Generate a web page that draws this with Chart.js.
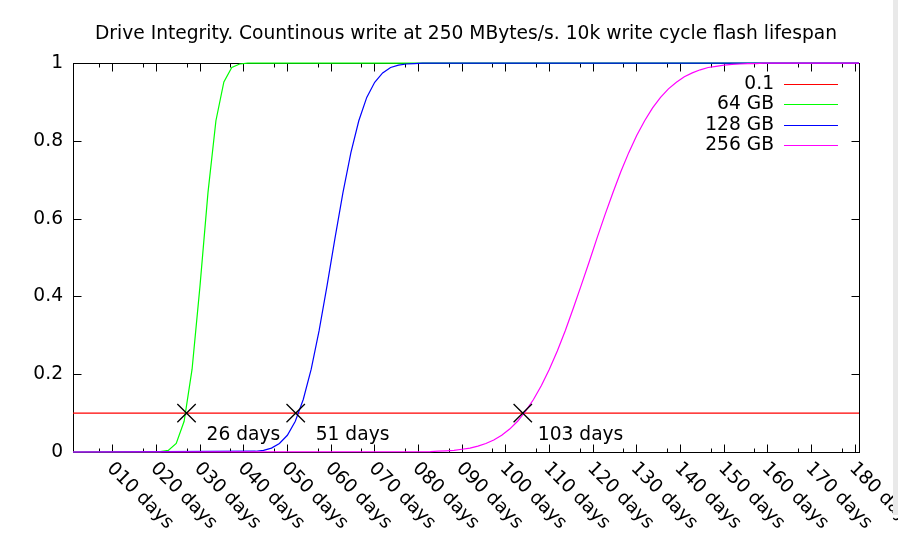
<!DOCTYPE html>
<html>
<head>
<meta charset="utf-8">
<title>Drive Integrity</title>
<script src="https://cdn.jsdelivr.net/npm/chart.js@4"></script>
<style>
  body { margin: 0; background: #fff; }
  #wrap { position: relative; width: 898px; height: 536px; }
  #strip { position: absolute; left: 893px; top: 0; width: 5px; height: 515px; background: #e9e9e9; }
</style>
</head>
<body>
<div id="wrap">
  <canvas id="driveChart" width="898" height="536"></canvas>
  <div id="strip"></div>
</div>
<script>
// Sampled curves (days elapsed -> fraction of drives worn out)
const days64 = [0, 20.00, 21.82, 23.64, 25.45, 27.27, 29.09, 30.91, 32.73, 34.55, 36.36, 38.18, 40.00, 180];
const gb64 = [0, 0.001, 0.004, 0.022, 0.079, 0.213, 0.428, 0.667, 0.852, 0.952, 0.989, 0.998, 1, 1];

const days128 = [0, 41.82, 43.64, 45.45, 47.27, 49.09, 50.91, 52.73, 54.55, 56.36, 58.18, 60.00,
  61.82, 63.64, 65.45, 67.27, 69.09, 70.91, 72.73, 74.55, 76.36, 78.18, 80.00, 180];
const gb128 = [0, 0.002, 0.004, 0.010, 0.022, 0.043, 0.079, 0.135, 0.213, 0.312, 0.428, 0.550,
  0.667, 0.770, 0.852, 0.912, 0.951, 0.975, 0.989, 0.995, 0.998, 0.999, 1, 1];

const days256 = [0, 81.82, 83.64, 85.45, 87.27, 89.09, 90.91, 92.73, 94.55, 96.36, 98.18, 100.00,
  101.82, 103.64, 105.45, 107.27, 109.09, 110.91, 112.73, 114.55, 116.36, 118.18, 120.00,
  121.82, 123.64, 125.45, 127.27, 129.09, 130.91, 132.73, 134.55, 136.36, 138.18, 140.00,
  141.82, 143.64, 145.45, 147.27, 149.09, 150.91, 152.73, 154.55, 156.36, 158.18, 160.00, 180];
const gb256 = [0, 0.001, 0.002, 0.003, 0.004, 0.007, 0.010, 0.015, 0.022, 0.031, 0.043, 0.059,
  0.079, 0.105, 0.135, 0.171, 0.213, 0.260, 0.312, 0.369, 0.428, 0.488, 0.550,
  0.610, 0.667, 0.721, 0.770, 0.814, 0.852, 0.885, 0.912, 0.934, 0.951, 0.965,
  0.975, 0.983, 0.989, 0.992, 0.995, 0.997, 0.998, 0.999, 0.999, 1, 1, 1];

// threshold line and the marked crossings
const thresholdDays = [0, 180];
const threshold = [0.1, 0.1];
const markDays = [26, 51, 103];
const markValues = [0.1, 0.1, 0.1];
const markLabels = ['26 days', '51 days', '103 days'];

// axis ticks
const xTickDays = [9, 19, 29, 39, 49, 59, 69, 79, 89, 99, 109, 119, 129, 139, 149, 159, 169, 179];
const xTickLabels = ['010 days', '020 days', '030 days', '040 days', '050 days', '060 days',
  '070 days', '080 days', '090 days', '100 days', '110 days', '120 days', '130 days',
  '140 days', '150 days', '160 days', '170 days', '180 days'];
const xMinorDays = [6, 16, 26, 36, 46, 56, 66, 76, 86, 96, 106, 116, 126, 136, 146, 156, 166, 176];
const yTicks = [0, 0.2, 0.4, 0.6, 0.8, 1];

const FONT = "'DejaVu Sans', sans-serif";
const FSIZE = 18.67;

function toPoints(xs, ys) {
  return xs.map((d, i) => ({ x: d, y: ys[i] }));
}

// gnuplot-style border with inward ticks, drawn under the curves
const borderPlugin = {
  id: 'border',
  beforeDatasetsDraw(chart) {
    const { ctx, chartArea: a, scales: { x, y } } = chart;
    const L = Math.round(a.left) + 0.5, R = Math.round(a.right) + 0.5;
    const T = Math.round(a.top) + 0.5, B = Math.round(a.bottom) + 0.5;
    ctx.save();
    ctx.strokeStyle = '#000';
    ctx.lineWidth = 1;
    ctx.beginPath();
    xTickDays.forEach(d => {
      const px = Math.round(x.getPixelForValue(d)) + 0.5;
      ctx.moveTo(px, B); ctx.lineTo(px, B - 8);
      ctx.moveTo(px, T); ctx.lineTo(px, T + 8);
    });
    xMinorDays.forEach(d => {
      const px = Math.round(x.getPixelForValue(d)) + 0.5;
      ctx.moveTo(px, B); ctx.lineTo(px, B - 4);
      ctx.moveTo(px, T); ctx.lineTo(px, T + 4);
    });
    yTicks.forEach(v => {
      const py = Math.round(y.getPixelForValue(v)) + 0.5;
      ctx.moveTo(L, py); ctx.lineTo(L + 8, py);
      ctx.moveTo(R, py); ctx.lineTo(R - 8, py);
    });
    ctx.stroke();
    ctx.strokeRect(L, T, R - L, B - T);
    ctx.restore();
  },
  afterDraw(chart) {
    const { ctx, chartArea: a, scales: { x } } = chart;
    ctx.save();
    ctx.fillStyle = '#000';
    ctx.font = FSIZE + 'px ' + FONT;
    // rotated day labels under the axis
    ctx.textAlign = 'left';
    ctx.textBaseline = 'alphabetic';
    xTickDays.forEach((d, i) => {
      const px = x.getPixelForValue(d);
      ctx.save();
      ctx.translate(px - 6, a.bottom + 17);
      ctx.rotate(Math.PI / 4);
      ctx.fillText(xTickLabels[i], 0, 0);
      ctx.restore();
    });
    // crossing labels
    const offs = [20, 20, 15];
    markDays.forEach((d, i) => {
      ctx.fillText(markLabels[i], x.getPixelForValue(d) + offs[i], a.bottom - 12);
    });
    // key, top right inside the plot
    ctx.textAlign = 'right';
    ctx.textBaseline = 'middle';
    chart.data.datasets.slice(0, 4).forEach((ds, i) => {
      const yy = Math.round(a.top + 20.5 + i * 20.4) + 0.5;
      ctx.fillText(ds.label, a.right - 85, yy);
      ctx.strokeStyle = ds.borderColor;
      ctx.lineWidth = 1.2;
      ctx.beginPath();
      ctx.moveTo(a.right - 75, yy);
      ctx.lineTo(a.right - 21, yy);
      ctx.stroke();
    });
    ctx.restore();
  }
};

const lineStyle = { fill: false, pointRadius: 0, borderWidth: 1.2, tension: 0, clip: false };

new Chart(document.getElementById('driveChart'), {
  type: 'line',
  data: {
    datasets: [
      { label: '0.1', data: toPoints(thresholdDays, threshold), borderColor: '#ff0000', order: 5, ...lineStyle },
      { label: '64 GB', data: toPoints(days64, gb64), borderColor: '#00ff00', order: 4, ...lineStyle },
      { label: '128 GB', data: toPoints(days128, gb128), borderColor: '#0000ff', order: 3, ...lineStyle },
      { label: '256 GB', data: toPoints(days256, gb256), borderColor: '#ff00ff', order: 2, ...lineStyle },
      {
        label: 'marks', data: toPoints(markDays, markValues), showLine: false, order: 1,
        pointStyle: 'crossRot', pointRadius: 13, pointBorderColor: '#000', pointBorderWidth: 1.3,
        borderColor: '#000', clip: false
      }
    ]
  },
  options: {
    responsive: false,
    animation: false,
    layout: { padding: { left: 0, right: 39, top: 0, bottom: 84 } },
    plugins: {
      legend: { display: false },
      tooltip: { enabled: false },
      title: {
        display: true,
        fullSize: false,
        text: 'Drive Integrity. Countinous write at 250 MBytes/s. 10k write cycle flash lifespan',
        color: '#000',
        font: { family: FONT, size: FSIZE, weight: 'normal' },
        padding: { top: 22.8, bottom: 18 }
      }
    },
    scales: {
      x: { type: 'linear', min: 0, max: 180, display: false },
      y: {
        type: 'linear', min: 0, max: 1,
        afterBuildTicks: s => { s.ticks = yTicks.map(v => ({ value: v })); },
        afterFit: s => { s.width = 73; },
        grid: { display: false, drawTicks: false },
        border: { display: false },
        ticks: {
          color: '#000', padding: 10, font: { family: FONT, size: FSIZE },
          callback: v => String(v)
        }
      }
    }
  },
  plugins: [borderPlugin]
});
</script>
</body>
</html>
